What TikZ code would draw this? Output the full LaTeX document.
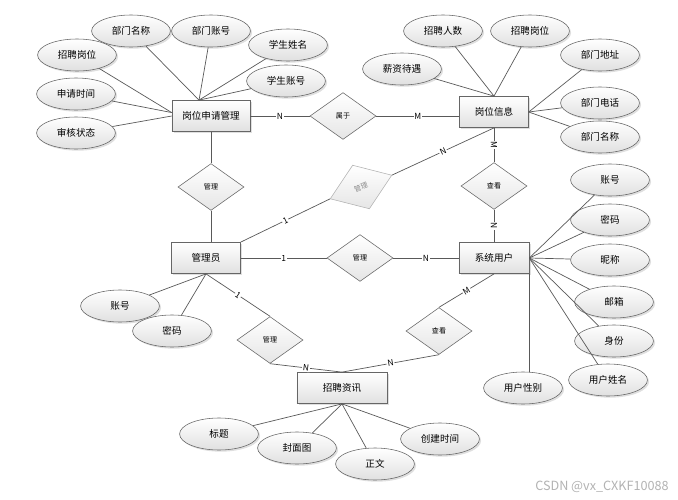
\documentclass[tikz,border=0pt]{standalone}
\usepackage{fontspec}
\setmainfont{Noto Sans CJK SC}
\usetikzlibrary{shapes.geometric,shadows}

\begin{document}
\begin{tikzpicture}[x=0.025cm, y=-0.025cm]
	\tikzstyle{entity} = [rectangle, draw=black!60, top color=white, bottom color=black!12, drop shadow={shadow xshift=1.2pt, shadow yshift=-1.2pt, opacity=0.25}, font=\fontsize{6.8}{8}\selectfont, minimum height=0.78cm, inner sep=0pt]
	\tikzstyle{attr} = [ellipse, draw=black!60, top color=white, bottom color=black!12, drop shadow={shadow xshift=1.2pt, shadow yshift=-1.2pt, opacity=0.25}, font=\fontsize{6.8}{8}\selectfont, minimum width=1.97cm, minimum height=0.8cm, inner sep=0pt]
	\tikzstyle{rel} = [diamond, draw=black!60, top color=white, bottom color=black!10, font=\fontsize{5}{6}\selectfont, minimum width=1.65cm, minimum height=1.17cm, inner sep=0pt]
	\tikzstyle{link} = [draw=black!65, line width=0.5pt]
	\tikzstyle{card} = [fill=white, inner sep=0.6pt, font=\fontsize{6}{7}\selectfont, sloped]
	\useasboundingbox (0,0) rectangle (678,500);
	% entities
	\node[entity, minimum width=1.95cm] (Apply) at (211,116) {岗位申请管理};
	\node[entity, minimum width=1.72cm] (Info) at (494,112) {岗位信息};
	\node[entity, minimum width=1.72cm] (Admin) at (206,258) {管理员};
	\node[entity, minimum width=1.75cm] (User) at (494,258) {系统用户};
	\node[entity, minimum width=2.25cm] (News) at (342,388) {招聘资讯};
	% relations
	\node[rel] (Belong) at (343,116) {属于};
	\node[rel] (ManageApply) at (211,187) {管理};
	\node[rel, rotate=21, draw=black!30, text=black!45] (ManageInfo) at (361,187) {管理};
	\node[rel] (ViewInfo) at (494,186) {查看};
	\node[rel] (ManageUser) at (360,258) {管理};
	\node[rel] (ViewNews) at (439,331) {查看};
	\node[rel] (ManageNews) at (270,340) {管理};
	% attributes
	\node[attr] (ApplyDept) at (131,31) {部门名称};
	\node[attr] (ApplyDeptNo) at (211,31) {部门账号};
	\node[attr] (ApplyJob) at (77,55) {招聘岗位};
	\node[attr] (ApplyStuName) at (288,45) {学生姓名};
	\node[attr] (ApplyStuNo) at (286,81) {学生账号};
	\node[attr] (ApplyTime) at (76,94) {申请时间};
	\node[attr] (ApplyState) at (76,133) {审核状态};
	\node[attr] (InfoNum) at (443,31) {招聘人数};
	\node[attr] (InfoJob) at (530,31) {招聘岗位};
	\node[attr] (InfoPay) at (402,69) {薪资待遇};
	\node[attr] (InfoAddr) at (600,55) {部门地址};
	\node[attr] (InfoTel) at (600,103) {部门电话};
	\node[attr] (InfoDept) at (600,137) {部门名称};
	\node[attr] (UserNo) at (610,180) {账号};
	\node[attr] (UserPwd) at (610,220) {密码};
	\node[attr] (UserNick) at (610,260) {昵称};
	\node[attr] (UserMail) at (614,302) {邮箱};
	\node[attr] (UserRole) at (614,341) {身份};
	\node[attr] (UserName) at (608,380) {用户姓名};
	\node[attr] (UserSex) at (523,388) {用户性别};
	\node[attr] (AdminNo) at (120,306) {账号};
	\node[attr] (AdminPwd) at (172,331) {密码};
	\node[attr] (NewsTitle) at (219,434) {标题};
	\node[attr] (NewsCover) at (297,448) {封面图};
	\node[attr] (NewsBody) at (375,464) {正文};
	\node[attr] (NewsTime) at (440,439) {创建时间};
	\node[text=black!30, font=\fontsize{9}{10}\selectfont] (Mark) at (602,487) {CSDN @vx\_CXKF10088};
	% relation links
	\draw[link] (Apply.east) -- node[card]{N} (Belong.west);
	\draw[link] (Belong.east) -- node[card]{M} (Belong.east -| Info.west);
	\draw[link] (Apply) -- (ManageApply);
	\draw[link] (ManageApply.south) -- (ManageApply.south |- Admin.north);
	\draw[link] (Admin.north east) -- node[card]{1} (ManageInfo.west);
	\draw[link] (ManageInfo.east) -- node[card]{N} (Info.south);
	\draw[link] (Info.south) -- node[card]{M} (ViewInfo.north);
	\draw[link] (ViewInfo.south) -- node[card]{N} (User.north);
	\draw[link] (Admin.east) -- node[card]{1} (ManageUser.west);
	\draw[link] (ManageUser.east) -- node[card]{N} (User.west);
	\draw[link] (User.south) -- node[card]{M} (ViewNews.north);
	\draw[link] (ViewNews.south) -- node[card]{N} (News.north);
	\draw[link] (Admin.south) -- node[card]{1} (ManageNews.north);
	\draw[link] (ManageNews.south) -- node[card]{N} (News.north);
	% attribute links
	\draw[link] (ApplyDept) -- (Apply.127);
	\draw[link] (ApplyDeptNo) -- (Apply.127);
	\draw[link] (ApplyStuName) -- (Apply.127);
	\draw[link] (ApplyStuNo) -- (Apply.127);
	\draw[link] (ApplyJob) -- (Apply.175);
	\draw[link] (ApplyTime) -- (Apply.175);
	\draw[link] (ApplyState) -- (Apply.west);
	\draw[link] (InfoNum) -- (Info.north);
	\draw[link] (InfoJob) -- (Info.north);
	\draw[link] (InfoPay) -- (Info.north);
	\draw[link] (InfoAddr) -- (Info.east);
	\draw[link] (InfoTel) -- (Info.east);
	\draw[link] (InfoDept) -- (Info.east);
	\draw[link] (UserNo) -- (User.east);
	\draw[link] (UserPwd) -- (User.east);
	\draw[link] (UserNick) -- (User.east);
	\draw[link] (UserMail) -- (User.east);
	\draw[link] (UserRole) -- (User.east);
	\draw[link] (UserName) -- (User.east);
	\draw[link] (User.south east) -- (User.south east |- UserSex.north);
	\draw[link] (AdminNo) -- (Admin.south);
	\draw[link] (AdminPwd) -- (Admin.south);
	\draw[link] (NewsTitle) -- (News.south);
	\draw[link] (NewsCover) -- (News.south);
	\draw[link] (NewsBody) -- (News.south);
	\draw[link] (NewsTime) -- (News.south);
\end{tikzpicture}
\end{document}
